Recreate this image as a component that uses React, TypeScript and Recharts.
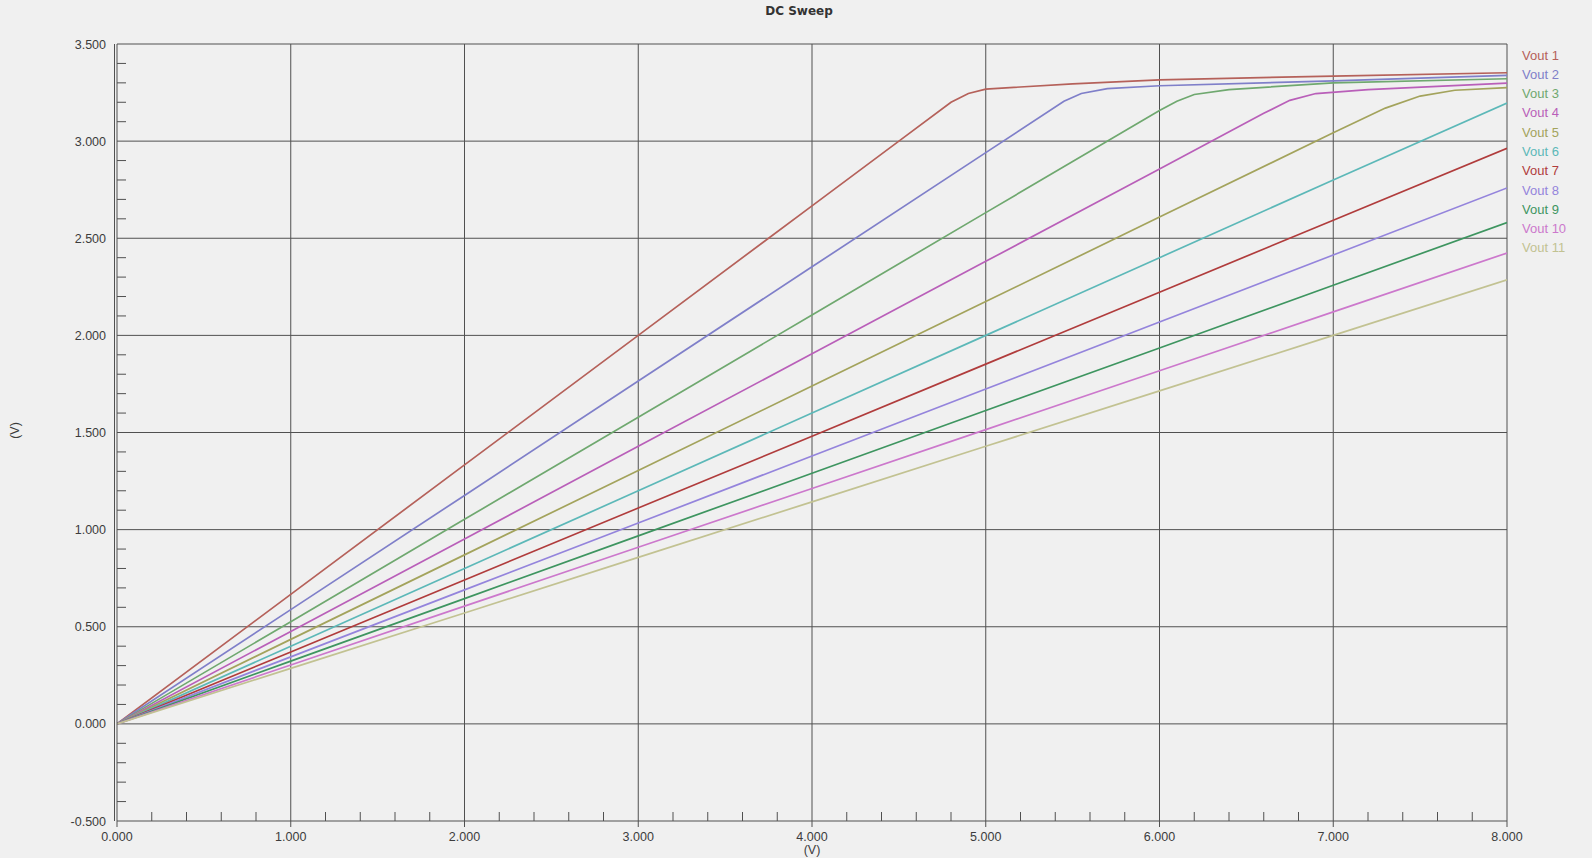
import React from 'react';
import { LineChart, Line, XAxis, YAxis, ReferenceLine, Legend } from 'recharts';

// Sweep values (x = input V, y = output V)
const vout1: [number, number][] = [[0, 0], [1, 0.667], [2, 1.333], [3, 2.0], [4, 2.667], [4.5, 3.0], [4.8, 3.2], [4.9, 3.245], [5.0, 3.268], [5.5, 3.295], [6, 3.315], [7, 3.335], [8, 3.352]];
const vout2: [number, number][] = [[0, 0], [1, 0.588], [2, 1.176], [3, 1.765], [4, 2.353], [5, 2.941], [5.45, 3.205], [5.55, 3.245], [5.7, 3.27], [6, 3.285], [7, 3.31], [8, 3.338]];
const vout3: [number, number][] = [[0, 0], [1, 0.526], [2, 1.053], [3, 1.579], [4, 2.105], [5, 2.632], [6, 3.158], [6.1, 3.205], [6.2, 3.24], [6.4, 3.265], [7, 3.3], [8, 3.321]];
const vout4: [number, number][] = [[0, 0], [1, 0.476], [2, 0.952], [3, 1.429], [4, 1.905], [5, 2.381], [6, 2.857], [6.6, 3.143], [6.75, 3.21], [6.9, 3.245], [7.2, 3.265], [8, 3.299]];
const vout5: [number, number][] = [[0, 0], [1, 0.435], [2, 0.87], [3, 1.304], [4, 1.739], [5, 2.174], [6, 2.609], [7, 3.043], [7.3, 3.17], [7.5, 3.232], [7.7, 3.262], [8, 3.275]];
const vout6: [number, number][] = [[0, 0], [1, 0.4], [2, 0.8], [3, 1.2], [4, 1.6], [5, 2.0], [6, 2.4], [7, 2.8], [8, 3.196]];
const vout7: [number, number][] = [[0, 0], [1, 0.37], [2, 0.741], [3, 1.111], [4, 1.481], [5, 1.852], [6, 2.222], [7, 2.593], [8, 2.963]];
const vout8: [number, number][] = [[0, 0], [1, 0.345], [2, 0.69], [3, 1.034], [4, 1.379], [5, 1.724], [6, 2.069], [7, 2.414], [8, 2.759]];
const vout9: [number, number][] = [[0, 0], [1, 0.323], [2, 0.645], [3, 0.968], [4, 1.29], [5, 1.613], [6, 1.935], [7, 2.258], [8, 2.581]];
const vout10: [number, number][] = [[0, 0], [1, 0.303], [2, 0.606], [3, 0.909], [4, 1.212], [5, 1.515], [6, 1.818], [7, 2.121], [8, 2.424]];
const vout11: [number, number][] = [[0, 0], [1, 0.286], [2, 0.571], [3, 0.857], [4, 1.143], [5, 1.429], [6, 1.714], [7, 2.0], [8, 2.286]];

const seriesNames = ['Vout 1', 'Vout 2', 'Vout 3', 'Vout 4', 'Vout 5', 'Vout 6', 'Vout 7', 'Vout 8', 'Vout 9', 'Vout 10', 'Vout 11'];
const seriesValues = [vout1, vout2, vout3, vout4, vout5, vout6, vout7, vout8, vout9, vout10, vout11];
const seriesColors = ['#b5615a', '#7f7fc9', '#6fa86f', '#b95fb9', '#a3a35c', '#5cb8b8', '#b03c3c', '#9484dc', '#3e9560', '#cc78cc', '#c2c292'];

const xMajorTicks = [0, 1, 2, 3, 4, 5, 6, 7, 8];
const yMajorTicks = [-0.5, 0, 0.5, 1, 1.5, 2, 2.5, 3, 3.5];
const xAllTicks = Array.from({ length: 41 }, (_, i) => Math.round(i * 2) / 10);
const yAllTicks = Array.from({ length: 41 }, (_, i) => Math.round(i - 5) / 10);

const title = 'DC Sweep';
const axisUnit = '(V)';

const AXIS = '#505050';
const TEXT = '#3c3c3c';
const FONT = '"Liberation Sans", Arial, sans-serif';

const isMajor = (v: number, step: number) => Math.abs(v / step - Math.round(v / step)) < 1e-6;

const YTick = (props: any) => {
  const { x, y, payload } = props;
  const v = payload.value as number;
  if (isMajor(v, 0.5)) {
    return (
      <text x={x - 11} y={y + 4.5} textAnchor="end" fontSize={12.5} fontFamily={FONT} fill={TEXT}>
        {v.toFixed(3)}
      </text>
    );
  }
  return <line x1={x} y1={y} x2={x + 9} y2={y} stroke={AXIS} strokeWidth={1} />;
};

const XTick = (props: any) => {
  const { x, y, payload } = props;
  const v = payload.value as number;
  if (isMajor(v, 1)) {
    return (
      <g>
        <line x1={x} y1={y} x2={x} y2={y + 6} stroke={AXIS} strokeWidth={1} />
        <text x={x} y={y + 19.5} textAnchor="middle" fontSize={12.5} fontFamily={FONT} fill={TEXT}>
          {v.toFixed(3)}
        </text>
      </g>
    );
  }
  return <line x1={x} y1={y} x2={x} y2={y - 9} stroke={AXIS} strokeWidth={1} />;
};

const YLabel = (props: any) => {
  const vb = props.viewBox;
  const cx = vb.x + 15;
  const cy = vb.y + vb.height / 2 - 2;
  return (
    <text x={cx} y={cy} transform={`rotate(-90 ${cx} ${cy})`} textAnchor="middle" dominantBaseline="central" fontSize={12.5} fontFamily={FONT} fill={TEXT}>
      {axisUnit}
    </text>
  );
};

const XLabel = (props: any) => {
  const vb = props.viewBox;
  return (
    <text x={vb.x + vb.width / 2} y={vb.y + 33} textAnchor="middle" fontSize={12.5} fontFamily={FONT} fill={TEXT}>
      {axisUnit}
    </text>
  );
};

const LegendContent = () => (
  <div style={{ fontFamily: FONT, fontSize: 13 }}>
    {seriesNames.map((name, i) => (
      <div key={name} style={{ color: seriesColors[i], height: 19.3, lineHeight: '19.3px', whiteSpace: 'nowrap' }}>
        {name}
      </div>
    ))}
  </div>
);

export default function App() {
  return (
    <div style={{ position: 'fixed', left: 0, top: 0, width: 1592, height: 858, background: '#f0f0f0', overflow: 'hidden' }}>
      <div style={{ position: 'absolute', left: 0, top: 4, width: 1598, textAlign: 'center', fontFamily: '"DejaVu Sans", sans-serif', fontWeight: 'bold', fontSize: 12, color: '#333' }}>
        {title}
      </div>
      <div style={{ position: 'absolute', left: 114, top: 44, width: 1, height: 777, background: AXIS }} />
      <LineChart width={1592} height={858} margin={{ top: 44, right: 85, left: 0, bottom: 0 }} style={{ position: 'absolute', left: 0, top: 0 }}>
        <XAxis
          type="number"
          dataKey="x"
          domain={[0, 8]}
          ticks={xAllTicks}
          interval={0}
          height={37}
          tickSize={0}
          tickMargin={0}
          tick={<XTick />}
          tickLine={false}
          axisLine={{ stroke: AXIS, strokeWidth: 1 }}
          allowDataOverflow
          label={<XLabel />}
        />
        <YAxis
          type="number"
          dataKey="y"
          domain={[-0.5, 3.5]}
          ticks={yAllTicks}
          interval={0}
          width={117}
          tickSize={0}
          tickMargin={0}
          tick={<YTick />}
          tickLine={false}
          axisLine={{ stroke: AXIS, strokeWidth: 1 }}
          allowDataOverflow
          label={<YLabel />}
        />
        {xMajorTicks.filter((v) => v > 0).map((v) => (
          <ReferenceLine key={'vx' + v} x={v} stroke={AXIS} strokeWidth={1} />
        ))}
        {yMajorTicks.filter((v) => v > -0.5).map((v) => (
          <ReferenceLine key={'hy' + v} y={v} stroke={AXIS} strokeWidth={1} />
        ))}
        <Legend
          layout="vertical"
          align="center"
          verticalAlign="middle"
          content={<LegendContent />}
          wrapperStyle={{ left: 1522, top: 45.5, width: 70, height: 215 }}
        />
        {seriesValues.map((vals, i) => (
          <Line
            key={seriesNames[i]}
            name={seriesNames[i]}
            data={vals.map(([x, y]) => ({ x, y }))}
            dataKey="y"
            type="linear"
            stroke={seriesColors[i]}
            strokeWidth={1.7}
            dot={false}
            activeDot={false}
            isAnimationActive={false}
          />
        ))}
      </LineChart>
    </div>
  );
}
